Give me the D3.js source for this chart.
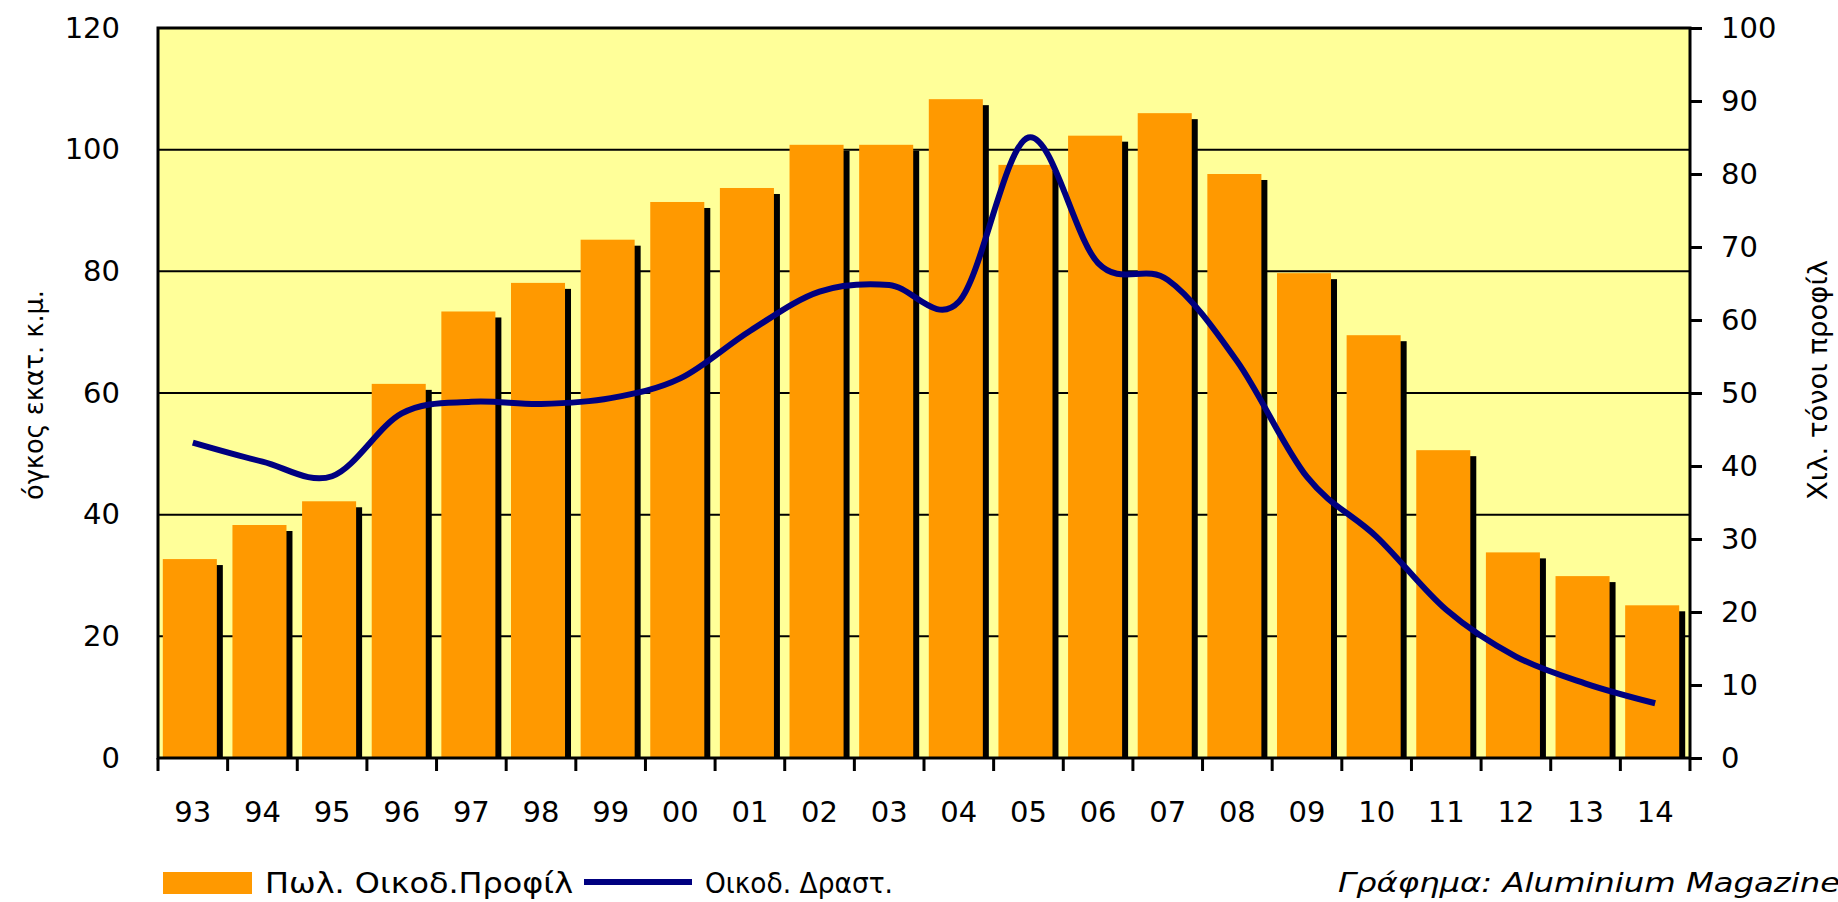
<!DOCTYPE html>
<html>
<head>
<meta charset="utf-8">
<script src="https://cdn.jsdelivr.net/npm/d3@7/dist/d3.min.js"></script>
<style>
  html, body { margin: 0; padding: 0; background: #ffffff; }
  svg { display: block; }
  text { font-family: "DejaVu Sans", Verdana, sans-serif; fill: #000; }
</style>
</head>
<body>
<svg id="chart" width="1838" height="902"></svg>
<script>
// ---- data ----
const years = ["93","94","95","96","97","98","99","00","01","02","03","04","05","06","07","08","09","10","11","12","13","14"];
const salesProfiles = [32.7,38.3,42.2,61.5,73.4,78.1,85.2,91.4,93.7,100.8,100.8,108.3,97.5,102.3,106.0,96.0,79.7,69.5,50.6,33.8,29.9,25.1];
const buildingActivity = [43.2,40.6,38.6,47.2,48.8,48.5,49.3,52.0,58.5,63.9,64.8,62.5,85.0,67.8,65.5,54.3,38.5,30.3,20.3,13.9,10.2,7.5];
const leftTicks = [0,20,40,60,80,100,120];
const rightTicks = [0,10,20,30,40,50,60,70,80,90,100];
const leftTitle = "όγκος εκατ. κ.μ.";
const rightTitle = "Χιλ. τόνοι προφίλ";
const legendBars = "Πωλ.  Οικοδ.Προφίλ";
const legendLine = "Οικοδ.  Δραστ.";
const footer = "Γράφημα: Aluminium Magazine";

// ---- layout ----
const svg = d3.select("#chart");
const L = 158, R = 1690, T = 28, B = 758;

const x = d3.scaleBand().domain(years).range([L, R]).paddingInner(0).paddingOuter(0);
const yL = d3.scaleLinear().domain([0, 120]).range([B, T]);
const yR = d3.scaleLinear().domain([0, 100]).range([B, T]);

const bw = x.bandwidth();
const barW = bw * 0.776;
const shOff = bw * 0.086;
const barX = d => x(d) + (bw - barW - shOff) / 2;

// background
svg.append("rect").attr("x", L).attr("y", T).attr("width", R - L).attr("height", B - T)
  .attr("fill", "#FFFF99");

// gridlines
svg.append("g").selectAll("line").data(leftTicks.filter(v => v > 0 && v < 120)).join("line")
  .attr("x1", L).attr("x2", R)
  .attr("y1", d => yL(d)).attr("y2", d => yL(d))
  .attr("stroke", "#000").attr("stroke-width", 2);

// bar shadows
svg.append("g").selectAll("rect").data(years).join("rect")
  .attr("x", (d) => barX(d) + shOff)
  .attr("y", (d, i) => yL(salesProfiles[i]) + shOff)
  .attr("width", barW)
  .attr("height", (d, i) => B - yL(salesProfiles[i]) - shOff)
  .attr("fill", "#000");

// bars
svg.append("g").selectAll("rect").data(years).join("rect")
  .attr("x", d => barX(d))
  .attr("y", (d, i) => yL(salesProfiles[i]))
  .attr("width", barW)
  .attr("height", (d, i) => B - yL(salesProfiles[i]))
  .attr("fill", "#FF9900");

// line
const line = d3.line()
  .x((d, i) => x(years[i]) + bw / 2)
  .y(d => yR(d))
  .curve(d3.curveCardinal.tension(0));
svg.append("path").datum(buildingActivity)
  .attr("d", line)
  .attr("fill", "none")
  .attr("stroke", "#000080")
  .attr("stroke-width", 6);

// frame
svg.append("rect").attr("x", L).attr("y", T).attr("width", R - L).attr("height", B - T)
  .attr("fill", "none").attr("stroke", "#000").attr("stroke-width", 3);

// left axis labels
const axL = svg.append("g").attr("transform", `translate(${L},0)`)
  .call(d3.axisLeft(yL).tickValues(leftTicks).tickSize(0).tickPadding(38));
axL.select(".domain").remove();
axL.selectAll("text").attr("font-size", 29).attr("font-family", "DejaVu Sans");

// right axis
const axR = svg.append("g").attr("transform", `translate(${R},0)`)
  .call(d3.axisRight(yR).tickValues(rightTicks).tickSize(12).tickPadding(19));
axR.select(".domain").remove();
axR.selectAll("line").attr("stroke", "#000").attr("stroke-width", 3);
axR.selectAll("text").attr("font-size", 29).attr("font-family", "DejaVu Sans");

// bottom axis: labels at band centers
const axB = svg.append("g").attr("transform", `translate(0,${B})`)
  .call(d3.axisBottom(x).tickSize(0).tickPadding(43));
axB.select(".domain").remove();
axB.selectAll("text").attr("font-size", 29).attr("font-family", "DejaVu Sans");

// bottom ticks at band boundaries
const bounds = years.map(d => x(d)).concat([x(years[years.length - 1]) + bw]);
svg.append("g").selectAll("line").data(bounds).join("line")
  .attr("x1", d => d).attr("x2", d => d)
  .attr("y1", B).attr("y2", B + 13)
  .attr("stroke", "#000").attr("stroke-width", 3);

// axis titles
svg.append("text")
  .attr("transform", "translate(43,395) rotate(-90)")
  .attr("text-anchor", "middle")
  .attr("font-size", 27)
  .attr("textLength", 210).attr("lengthAdjust", "spacingAndGlyphs")
  .text(leftTitle);
svg.append("text")
  .attr("transform", "translate(1827,380) rotate(-90)")
  .attr("text-anchor", "middle")
  .attr("font-size", 27)
  .attr("textLength", 240).attr("lengthAdjust", "spacingAndGlyphs")
  .text(rightTitle);

// legend
const lg = svg.append("g");
lg.append("rect").attr("x", 163).attr("y", 872).attr("width", 89).attr("height", 22).attr("fill", "#FF9900");
lg.append("text").attr("x", 265).attr("y", 893).attr("font-size", 29)
  .attr("textLength", 308).attr("lengthAdjust", "spacingAndGlyphs").text(legendBars);
lg.append("line").attr("x1", 584).attr("x2", 692).attr("y1", 882).attr("y2", 882)
  .attr("stroke", "#000080").attr("stroke-width", 6);
lg.append("text").attr("x", 705).attr("y", 893).attr("font-size", 29)
  .attr("textLength", 188).attr("lengthAdjust", "spacingAndGlyphs").text(legendLine);

// footer
svg.append("text").attr("x", 1338).attr("y", 892).attr("font-size", 27)
  .attr("font-style", "italic").attr("fill", "#333")
  .attr("textLength", 502).attr("lengthAdjust", "spacingAndGlyphs")
  .text(footer);
</script>
</body>
</html>
